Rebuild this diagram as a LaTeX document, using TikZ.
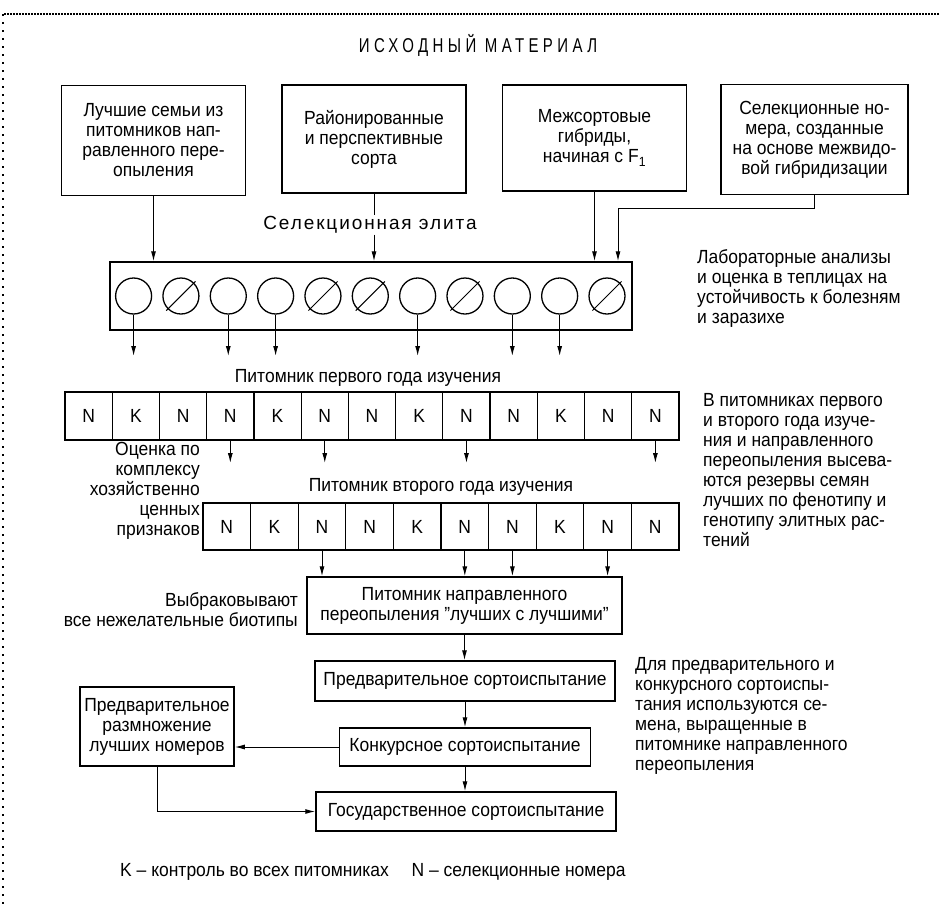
\documentclass[tikz,border=0pt]{standalone}
\usepackage{fontspec}
\setmainfont{Liberation Sans}[FakeStretch=0.92]
\newfontfamily\titlefont{Liberation Sans}[FakeStretch=0.75,LetterSpace=22]
\newfontfamily\elitefont{Liberation Sans}[LetterSpace=10]
\usepackage{tikz}
\usetikzlibrary{arrows.meta}
\tikzstyle{srcbox} = [draw, line width=1.5pt, minimum width=184pt, minimum height=110pt, align=center, inner sep=2pt]
\tikzstyle{elitebox} = [draw, line width=1.5pt, minimum width=522pt, minimum height=68pt, inner sep=0pt]
\tikzstyle{pot} = [draw, circle, line width=1.3pt, minimum size=36pt, inner sep=0pt]
\tikzstyle{cell} = [draw, line width=1.3pt, minimum height=48pt, inner sep=0pt]
\tikzstyle{stage} = [draw, line width=1.5pt, align=center, inner sep=0pt]
\tikzstyle{note} = [align=left, anchor=west, inner sep=0pt]
\tikzstyle{arrow} = [draw, -{Latex[length=10pt, width=5pt]}, line width=1pt]
\tikzstyle{link} = [draw, line width=1pt]

\begin{document}
\begin{tikzpicture}[x=1pt, y=-1pt, font=\fontsize{19pt}{20pt}\selectfont]
\useasboundingbox (0,0) rectangle (940,906);
\draw[line width=1.2pt, dash pattern=on 1.5pt off 1.5pt] (4,14) -- (940,14);
\draw[line width=1.5pt, dash pattern=on 1.5pt off 6.5pt] (3,14) -- (3,906);

\node[font=\titlefont\fontsize{20pt}{20pt}\selectfont] at (478, 45) (title) {ИСХОДНЫЙ МАТЕРИАЛ};

\node[srcbox] at (153.5, 140.5) (box1) {Лучшие семьи из\\питомников нап-\\равленного пере-\\опыления};
\node[srcbox, minimum height=108pt] at (374, 139) (box2) {Районированные\\и перспективные\\сорта};
\node[srcbox, minimum height=106pt] at (594.5, 138) (box3) {Межсортовые\\гибриды,\\начиная с F\textsubscript{1}};
\node[srcbox, minimum width=187pt] at (814.5, 139.5) (box4) {Селекционные но-\\мера, созданные\\на основе межвидо-\\вой гибридизации};

\node[font=\elitefont\fontsize{19pt}{20pt}\selectfont, inner sep=1pt] at (370, 225) (elitelbl) {Селекционная элита};

\node[elitebox] at (371, 296) (elite) {};
\foreach \i in {1,...,11}
  \node[pot] at ({86.26+47.34*\i}, 296) (c\i) {};
\foreach \i in {2,5,6,8,11}
  \draw[link, shorten <=-2pt, shorten >=-2pt] (c\i.south west) -- (c\i.north east);

\node[note] at (697, 288) (lab) {Лабораторные анализы\\и оценка в теплицах на\\устойчивость к болезням\\и заразихе};

\draw[arrow] (box1.south) -- (box1.south |- elite.north);
\draw[link] (box2.south) -- (box2.south |- elitelbl.north);
\draw[arrow] (box2.south |- elitelbl.south) -- (box2.south |- elite.north);
\draw[arrow] (box3.south) -- (box3.south |- elite.north);
\coordinate (bend4) at (618, 208);
\draw[arrow] (box4.south) |- (bend4) -- (bend4 |- elite.north);

\coordinate (r1in) at (0, 356);
\foreach \i in {1,3,4,7,9,10}
  \draw[arrow] (c\i.south) -- (c\i.south |- r1in);

\node at (368, 378) (year1) {Питомник первого года изучения};
\foreach \t [count=\i] in {N,K,N,N,K,N,N,K,N,N,K,N,N}
  \node[cell, minimum width=47.23pt] at ({65+47.23*(\i-0.5)}, 416) (a\i) {\t};

\node[note] at (703, 470) (reserve) {В питомниках первого\\и второго года изуче-\\ния и направленного\\переопыления высева-\\ются резервы семян\\лучших по фенотипу и\\генотипу элитных рас-\\тений};

\coordinate (r2in) at (0, 463);
\foreach \i in {4,6,9,13}
  \draw[arrow] (a\i.south) -- (a\i.south |- r2in);

\node[align=right, anchor=east, inner sep=0pt] at (200, 491) (assess) {Оценка по\\комплексу\\хозяйственно\\ценных\\признаков};
\node at (441, 487) (year2) {Питомник второго года изучения};
\foreach \t [count=\i] in {N,K,N,N,K,N,N,K,N,N}
  \node[cell, minimum width=47.6pt, minimum height=47pt] at ({203+47.6*(\i-0.5)}, 526.5) (b\i) {\t};

\node[stage, minimum width=315pt, minimum height=57pt] at (464.5, 605.5) (napr) {Питомник направленного\\переопыления "лучших с лучшими"};
\foreach \i in {3,6,7,9}
  \draw[arrow] (b\i.south) -- (b\i.south |- napr.north);
\node[align=right, anchor=east, inner sep=0pt] at (298, 609.5) (reject) {Выбраковывают\\все нежелательные биотипы};

\node[stage, minimum width=300pt, minimum height=40pt] at (465, 681) (predv) {Предварительное сортоиспытание};
\node[stage, minimum width=251pt, minimum height=38pt] at (465, 747) (konk) {Конкурсное сортоиспытание};
\node[stage, minimum width=300pt, minimum height=39pt] at (466, 811.5) (gos) {Государственное сортоиспытание};
\node[stage, minimum width=154pt, minimum height=79pt] at (157, 726.5) (razm) {Предварительное\\размножение\\лучших номеров};

\draw[arrow] (napr.south) -- (napr.south |- predv.north);
\draw[arrow] (predv.south) -- (predv.south |- konk.north);
\draw[arrow] (konk.south) -- (konk.south |- gos.north);
\draw[arrow] (konk.west) -- (konk.west -| razm.east);
\draw[arrow] (razm.south) |- (gos.west);

\node[note] at (635, 716) (seeds) {Для предварительного и\\конкурсного сортоиспы-\\тания используются се-\\мена, выращенные в\\питомнике направленного\\переопыления};

\node[anchor=west, inner sep=0pt] at (120, 872) (legend) {K -- контроль во всех питомниках\hspace{1.2em}N -- селекционные номера};
\end{tikzpicture}
\end{document}
